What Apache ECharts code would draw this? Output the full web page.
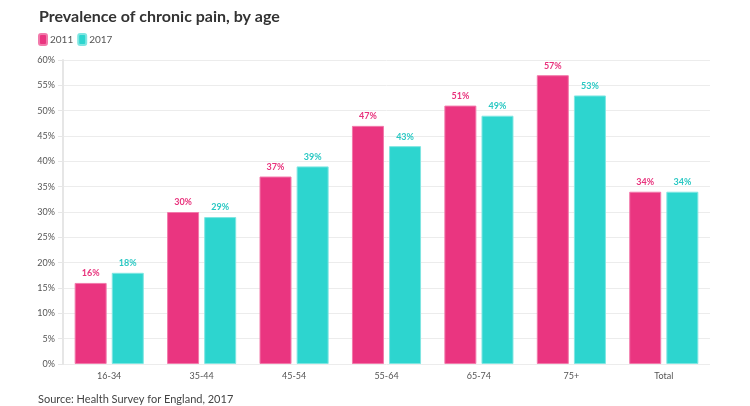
<!DOCTYPE html>
<html><head><meta charset="utf-8">
<script src="https://cdn.jsdelivr.net/npm/echarts@6/dist/echarts.min.js"></script>
<style>html,body{margin:0;padding:0;background:#fff}#c{width:750px;height:406px}</style>
</head><body><div id="c"></div>
<script>
const categories = ['16-34','35-44','45-54','55-64','65-74','75+','Total'];
const values2011 = [16,30,37,47,51,57,34];
const values2017 = [18,29,39,43,49,53,34];
const seriesNames = ['2011','2017'];
const colors = ['#ea3580','#2dd5cf'];
const labelColors = ['#e8327c','#2ac8c3'];
const font = 'Lato, "Open Sans", sans-serif';
const chart = echarts.init(document.getElementById('c'));
function mk(name, data, i){
  return {name, type:'bar', data, barWidth:32, barGap:'16%',
    itemStyle:{color:colors[i], borderColor:i?'#7fe6e2':'#f27aab', borderWidth:1},
    label:{show:true, position:'top', distance:5, formatter:'{c}%', color:labelColors[i], fontSize:9, fontWeight:'bold', fontFamily:font}};
}
chart.setOption({
  animation:false,
  textStyle:{fontFamily:font},
  title:{text:'Prevalence of chronic pain, by age', left:34, top:4, textStyle:{fontSize:16, fontWeight:'bold', color:'#333', fontFamily:font}},
  legend:{data:seriesNames, left:33, top:28, itemWidth:8, itemHeight:11, itemGap:4, icon:'roundRect', textStyle:{fontSize:10, color:'#555', padding:[0,0,0,-2]}},
  graphic:[{type:'text', left:38, top:394, style:{text:'Source: Health Survey for England, 2017', fontSize:11, fill:'#444', fontFamily:font}}],
  grid:{left:63, right:40, top:60, bottom:42},
  xAxis:{type:'category', data:categories, axisLine:{show:false}, axisTick:{show:false},
    axisLabel:{fontSize:9, color:'#555', margin:8}},
  yAxis:{type:'value', min:0, max:60, interval:5,
    axisLabel:{formatter:'{value}%', fontSize:9, color:'#555', margin:8},
    axisLine:{show:true, lineStyle:{color:'#e6e6e6', width:2}},
    axisTick:{show:true, length:5, lineStyle:{color:'#e6e6e6'}},
    splitLine:{lineStyle:{color:'#ececec'}}},
  series:[mk(seriesNames[0], values2011, 0), mk(seriesNames[1], values2017, 1)]
});
</script></body></html>
